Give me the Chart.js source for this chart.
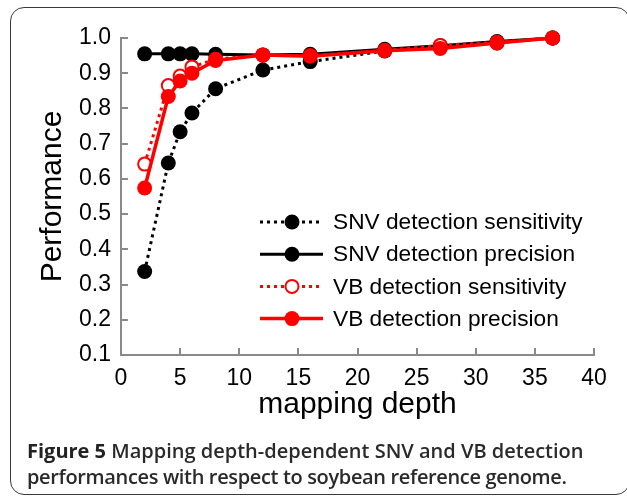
<!DOCTYPE html>
<html>
<head>
<meta charset="utf-8">
<script src="https://cdn.jsdelivr.net/npm/chart.js@4.4.1/dist/chart.umd.min.js"></script>
<style>
  html, body { margin: 0; padding: 0; background: #fff; }
  #wrap { position: relative; width: 627px; height: 499px; overflow: hidden; }
  #frame { position: absolute; left: 10px; top: 7px; width: 620px; height: 488px;
           border: 1.5px solid #3a3a3a; border-radius: 14px; box-sizing: border-box; }
  #cv { position: absolute; left: 0; top: 0; }
  #caption { position: absolute; left: 27px; top: 438px; font-family: "Open Sans", sans-serif;
             font-size: 20px; line-height: 26px; color: #2a2a2a; font-weight: 600; white-space: nowrap; }
  #caption b { font-weight: 700; color: #222; }
  #caption .l2 { letter-spacing: -0.35px; }
</style>
</head>
<body>
<div id="wrap">
  <div id="frame"></div>
  <canvas id="cv" width="627" height="499"></canvas>
  <div id="caption"><b>Figure 5</b> Mapping depth-dependent SNV and VB detection<br><span class="l2">performances with respect to soybean reference genome.</span></div>
</div>
<script>
// ---- data ----
const depth = [2, 4, 5, 6, 8, 12, 16, 22.3, 27, 31.8, 36.5];
const snvSensitivity = [0.337, 0.645, 0.734, 0.787, 0.856, 0.909, 0.933, 0.963, 0.975, 0.986, 1.0];
const snvPrecision   = [0.955, 0.955, 0.955, 0.955, 0.954, 0.952, 0.954, 0.968, 0.978, 0.990, 1.0];
const vbSensitivity  = [0.642, 0.865, 0.892, 0.918, 0.940, 0.951, 0.950, 0.965, 0.979, 0.988, 1.0];
const vbPrecision    = [0.574, 0.834, 0.878, 0.900, 0.936, 0.952, 0.948, 0.964, 0.970, 0.986, 1.0];
const seriesLabels = ["SNV detection sensitivity", "SNV detection precision", "VB detection sensitivity", "VB detection precision"];
const xTicks = [0, 5, 10, 15, 20, 25, 30, 35, 40];
const yTicks = [0.1, 0.2, 0.3, 0.4, 0.5, 0.6, 0.7, 0.8, 0.9, 1.0];
const xTitle = "mapping depth";
const yTitle = "Performance";

const pts = (ys) => depth.map((x, i) => ({x: x, y: ys[i]}));
const AXIS = "#8a8a8a";
const FONT = "'Liberation Sans', Arial, sans-serif";

const datasets = [
  { label: seriesLabels[0], data: pts(snvSensitivity), borderColor: "#000", backgroundColor: "#000",
    borderWidth: 3, borderDash: [3, 4], pointRadius: 7.5, pointBackgroundColor: "#000", pointBorderColor: "#000",
    pointBorderWidth: 0, order: 3 },
  { label: seriesLabels[1], data: pts(snvPrecision), borderColor: "#000", backgroundColor: "#000",
    borderWidth: 3, borderDash: [], pointRadius: 7.5, pointBackgroundColor: "#000", pointBorderColor: "#000",
    pointBorderWidth: 0, order: 2 },
  { label: seriesLabels[2], data: pts(vbSensitivity), borderColor: "#ff0000", backgroundColor: "#fff",
    borderWidth: 3, borderDash: [3, 4], pointRadius: 6.5, pointBackgroundColor: "#fff", pointBorderColor: "#ff0000",
    pointBorderWidth: 2, order: 1 },
  { label: seriesLabels[3], data: pts(vbPrecision), borderColor: "#ff0000", backgroundColor: "#ff0000",
    borderWidth: 3.5, borderDash: [], pointRadius: 7.5, pointBackgroundColor: "#ff0000", pointBorderColor: "#ff0000",
    pointBorderWidth: 0, order: 0 }
];
datasets.forEach(d => { d.clip = false; d.tension = 0; d.pointHoverRadius = d.pointRadius; });

// inward tick marks drawn from the library's scales
const innerTicks = {
  id: 'innerTicks',
  afterDraw(chart) {
    const ctx = chart.ctx, xs = chart.scales.x, ys = chart.scales.y;
    const a = chart.chartArea;
    ctx.save();
    ctx.strokeStyle = AXIS; ctx.lineWidth = 2;
    ctx.beginPath();
    yTicks.forEach(v => { const p = Math.round(ys.getPixelForValue(v)); ctx.moveTo(a.left, p); ctx.lineTo(a.left + 7, p); });
    xTicks.forEach(v => { const p = Math.round(xs.getPixelForValue(v)); ctx.moveTo(p, a.bottom); ctx.lineTo(p, a.bottom - 7); });
    ctx.stroke();
    ctx.restore();
  }
};

// legend drawn with line + marker samples
const lineLegend = {
  id: 'lineLegend',
  afterDraw(chart) {
    const ctx = chart.ctx;
    const x0 = 260, x1 = 323, xm = 292, tx = 333, y0 = 222, dy = 32.2;
    ctx.save();
    chart.data.datasets.forEach((d, i) => {
      const y = y0 + i * dy;
      ctx.beginPath();
      ctx.setLineDash(d.borderDash || []);
      ctx.lineWidth = d.borderWidth;
      ctx.strokeStyle = d.borderColor;
      ctx.moveTo(x0, y); ctx.lineTo(x1, y);
      ctx.stroke();
      ctx.setLineDash([]);
      ctx.beginPath();
      ctx.arc(xm, y, d.pointRadius, 0, Math.PI * 2);
      ctx.fillStyle = d.pointBackgroundColor; ctx.fill();
      if (d.pointBorderWidth) { ctx.lineWidth = d.pointBorderWidth; ctx.strokeStyle = d.pointBorderColor; ctx.stroke(); }
      ctx.fillStyle = "#000";
      ctx.font = "22.7px " + FONT;
      ctx.textBaseline = "middle";
      ctx.textAlign = "left";
      ctx.fillText(d.label, tx, y + 1);
    });
    ctx.restore();
  }
};

new Chart(document.getElementById('cv'), {
  type: 'line',
  data: { datasets: datasets },
  options: {
    responsive: false,
    animation: false,
    devicePixelRatio: 1,
    layout: { padding: { left: 0, top: 38, right: 33, bottom: 74 } },
    plugins: { legend: { display: false }, tooltip: { enabled: false } },
    scales: {
      x: {
        type: 'linear', min: 0, max: 40,
        afterBuildTicks: s => { s.ticks = xTicks.map(v => ({value: v})); },
        afterFit: s => { s.height = 70; },
        grid: { display: false, drawTicks: false },
        border: { display: true, color: AXIS, width: 2 },
        ticks: { color: "#000", font: { family: FONT, size: 23 }, padding: 10, maxRotation: 0,
                 callback: v => String(v) },
        title: { display: true, text: xTitle, color: "#000", font: { family: FONT, size: 30 }, padding: { top: 0, bottom: 2 } }
      },
      y: {
        type: 'linear', min: 0.1, max: 1.0,
        afterBuildTicks: s => { s.ticks = yTicks.map(v => ({value: v})); },
        afterFit: s => { s.width = 121; },
        grid: { display: false, drawTicks: false },
        border: { display: true, color: AXIS, width: 2 },
        ticks: { color: "#000", font: { family: FONT, size: 23 }, padding: 10,
                 callback: v => Number(v).toFixed(1) },
        title: { display: true, text: yTitle, color: "#000", font: { family: FONT, size: 30 }, padding: { top: 35, bottom: 0 } }
      }
    }
  },
  plugins: [innerTicks, lineLegend]
});
</script>
</body>
</html>
